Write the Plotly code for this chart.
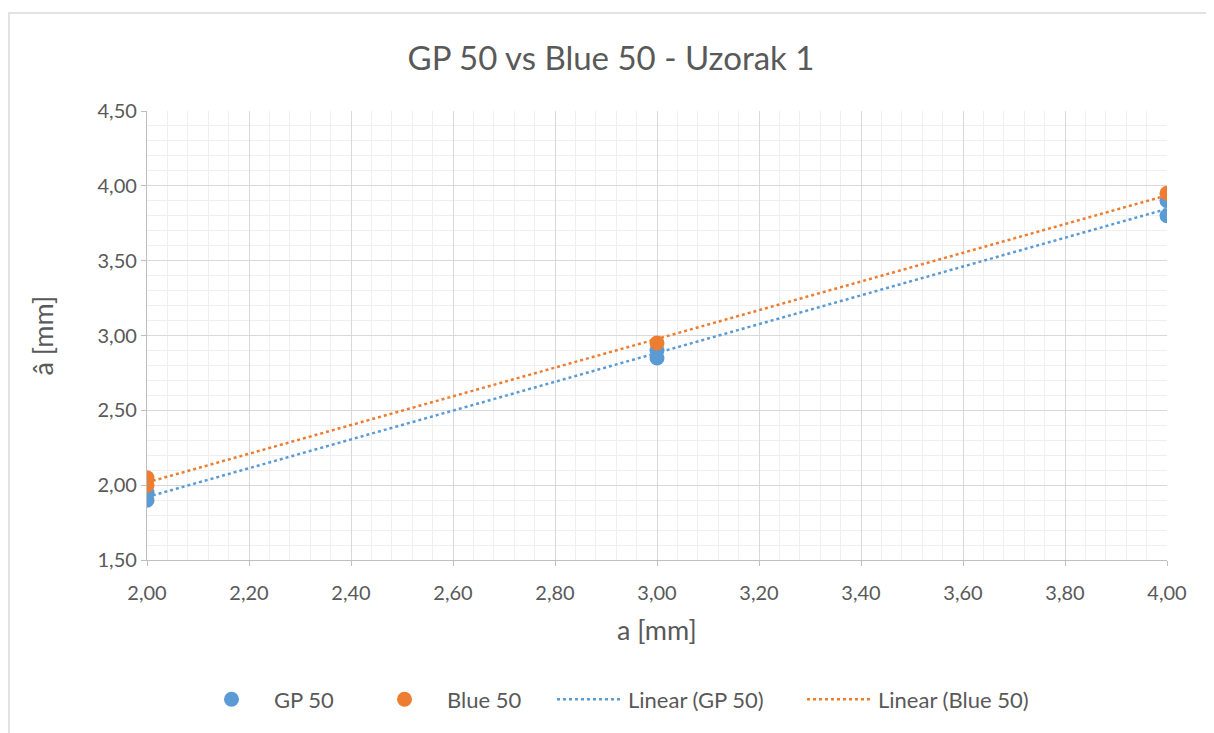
import numpy as np
import plotly.graph_objects as go

# Data
gp_x = [2, 2, 3, 3, 4, 4]
gp_y = [1.90, 1.95, 2.85, 2.90, 3.80, 3.90]
blue_x = [2, 2, 3, 4]
blue_y = [2.05, 2.00, 2.95, 3.95]

x_range = [2.0, 4.0]
y_range = [1.5, 4.5]

BLUE = "#5B9BD5"
ORANGE = "#ED7D31"
TXT = "#595959"
FONT = "Lato"

# page coords of plot area (page has 8px body margin)
PL, PR, PT, PB = 147, 1167, 111, 562
W, H = 1206, 725


def px_x(p):
    return (p - PL) / (PR - PL)


def px_y(p):
    return (PB - p) / (PB - PT)


def trend(xs, ys):
    k, b = np.polyfit(xs, ys, 1)
    xx = np.array([min(xs), max(xs)], dtype=float)
    return xx, k * xx + b


fig = go.Figure()
tx, ty = trend(gp_x, gp_y)
fig.add_trace(go.Scatter(x=tx, y=ty, mode="lines", name="Linear (GP 50)", legend="legend3",
                         line=dict(color=BLUE, width=2.5, dash="dot")))
tx2, ty2 = trend(blue_x, blue_y)
fig.add_trace(go.Scatter(x=tx2, y=ty2, mode="lines", name="Linear (Blue 50)", legend="legend4",
                         line=dict(color=ORANGE, width=2.5, dash="dot")))
fig.add_trace(go.Scatter(x=gp_x, y=gp_y, mode="markers", name="GP 50", legend="legend",
                         marker=dict(color=BLUE, size=15)))
fig.add_trace(go.Scatter(x=blue_x, y=blue_y, mode="markers", name="Blue 50", legend="legend2",
                         marker=dict(color=ORANGE, size=15)))

axis_common = dict(
    showline=True, linecolor="#BFBFBF", linewidth=1.3,
    ticks="outside", ticklen=5, tickcolor="#BFBFBF",
    gridcolor="#D9D9D9", gridwidth=1.3,
    tickfont=dict(family=FONT, size=20, color=TXT),
    tickformat=".2f", zeroline=False,
)


def leg(left_px, iw):
    return dict(orientation="h", x=px_x(left_px), xanchor="left", y=px_y(702), yanchor="middle",
                font=dict(family=FONT, size=22, color=TXT), itemwidth=iw,
                bgcolor="rgba(0,0,0,0)")


fig.update_layout(
    width=W, height=H,
    margin=dict(l=PL - 8, r=8 + W - PR, t=PT - 8, b=8 + H - PB),
    paper_bgcolor="white", plot_bgcolor="white",
    separators=",.",
    font=dict(family=FONT, color=TXT),
    title=dict(text="GP 50 vs Blue 50 - Uzorak 1", x=0.5, xanchor="center",
               y=1 - (58 - 8) / H, yanchor="middle",
               font=dict(family=FONT, size=33, color=TXT)),
    xaxis=dict(range=x_range, dtick=0.2, tick0=2.0, ticklabelstandoff=10,
               minor=dict(dtick=0.04, showgrid=True, gridcolor="#EFEFEF", gridwidth=1.3, ticks=""),
               **axis_common),
    yaxis=dict(range=y_range, dtick=0.5, tick0=1.5,
               minor=dict(dtick=0.1, showgrid=True, gridcolor="#EFEFEF", gridwidth=1.3, ticks=""),
               **axis_common),
    legend=leg(189, 75),
    legend2=leg(362, 75),
    legend3=leg(552, 66),
    legend4=leg(802, 66),
    showlegend=True,
)

fig.add_annotation(text="a [mm]", xref="paper", yref="paper", x=0.5, y=px_y(632),
                   showarrow=False, yanchor="middle",
                   font=dict(family=FONT, size=27, color=TXT))
fig.add_annotation(text="â [mm]", xref="paper", yref="paper", x=px_x(42), y=0.5,
                   showarrow=False, textangle=-90, xanchor="center", yanchor="middle",
                   font=dict(family=FONT, size=27, color=TXT))

# chart border
fig.add_shape(type="rect", xref="paper", yref="paper",
              x0=px_x(9), x1=px_x(1260),
              y0=px_y(800), y1=px_y(12.5),
              line=dict(color="#D9D9D9", width=1.5), layer="below")

fig.write_html("out.html")
